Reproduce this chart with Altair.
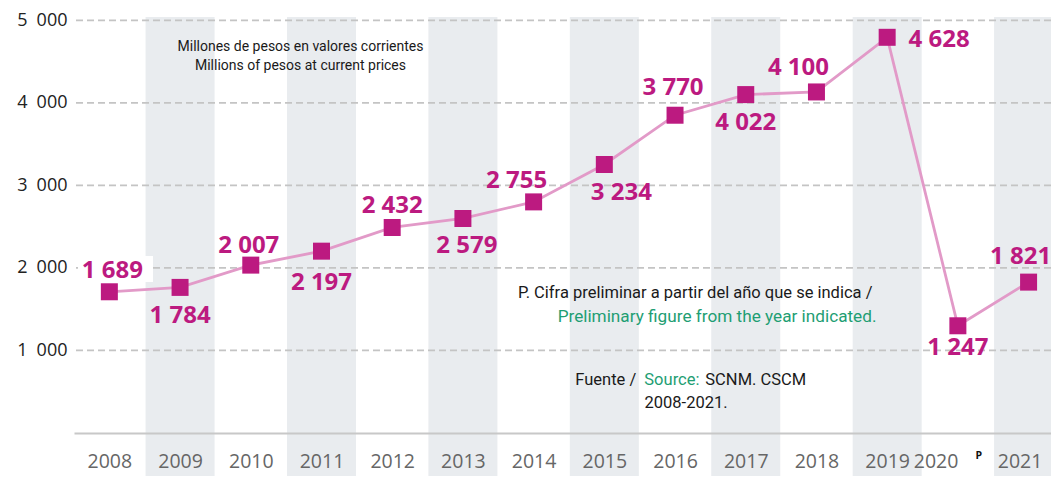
import altair as alt
import pandas as pd

# ---- data ----
years = [2008, 2009, 2010, 2011, 2012, 2013, 2014,
         2015, 2016, 2017, 2018, 2019, 2020, 2021]
# figures printed next to each marker
values = [1689, 1784, 2007, 2197, 2432, 2579, 2755, 3234, 3770, 4022, 4100, 4628, 1247, 1821]
# height at which each marker is drawn
plotted = [1711, 1764, 2034, 2203, 2490, 2599, 2800, 3253, 3850, 4100, 4132, 4794, 1299, 1828]
grid_values = [1000, 2000, 3000, 4000, 5000]
banded_years = years[1::2]

# ---- layout / style (kept apart from the data) ----
label_dx = [3, 0, -2, 0, 0, 4, -17, 17, -2, 0, -18, 52, 0, -8]
label_dy = [-21, 29, -19, 32, -21, 28, -21, 29, -27, 28, -24, 3, 22, -25]

MAGENTA = "#BC1A80"
PINK = "#E29AC8"
GREEN = "#1E9E73"
BAND = "#E9ECEF"
W, H = 977, 416

df = pd.DataFrame({
    "year": years,
    "v": plotted,
    "label": [f"{v:,}".replace(",", " ") for v in values],
})

xscale = alt.Scale(domain=[2007.5, 2021.317], nice=False, zero=False)
x_axis = alt.Axis(
    title=None, values=years, format="d", labelAngle=0, ticks=False, tickSize=0,
    grid=False, labelFlush=False, labelOverlap=False, labelBound=False,
    labelPadding=19, labelFont="Open Sans", labelFontSize=19.5, labelColor="#666666",
    labelAlign={"condition": {"test": "datum.value == 2020", "value": "right"}, "value": "center"},
    labelOffset={"condition": {"test": "datum.value == 2021", "value": -9}, "value": 0},
    domainColor="#C8C8C8", domainWidth=2, zindex=1,
)
X = alt.X("year:Q", scale=xscale, axis=x_axis)
Y = alt.Y(
    "v:Q",
    scale=alt.Scale(domain=[0, 5040], nice=False, zero=True),
    axis=alt.Axis(
        title=None, values=grid_values, grid=False, domain=False, ticks=False, tickSize=0,
        labelPadding=7, labelFont="Open Sans", labelFontSize=18, labelColor="#222222",
        labelExpr="replace(format(datum.value, ','), ',', '\u2002')",
    ),
)

bands = alt.Chart(pd.DataFrame({"year": banded_years})).transform_calculate(
    x0="datum.year - 0.488", x1="datum.year + 0.488"
).mark_rect(color=BAND).encode(
    x=alt.X("x0:Q", scale=xscale, axis=x_axis), x2="x1:Q",
    y=alt.value(0), y2=alt.value(480),
)

grid = alt.Chart(pd.DataFrame({"v": grid_values})).mark_rule(
    color="#C4C4C4", strokeWidth=1.7, strokeDash=[7, 4]
).encode(y=Y)

white_box = alt.Chart(pd.DataFrame({"a": [0]})).mark_rect(color="white").encode(
    x=alt.value(4), x2=alt.value(79), y=alt.value(239), y2=alt.value(265)
)

line = alt.Chart(df).mark_line(color=PINK, strokeWidth=2.8).encode(x=X, y=Y)
points = alt.Chart(df).mark_point(
    shape="square", filled=True, size=289, color=MAGENTA, opacity=1
).encode(x=X, y=Y)

label_layers = []
for yr, dx, dy in zip(years, label_dx, label_dy):
    label_layers.append(
        alt.Chart(df).transform_filter(alt.datum.year == yr).mark_text(
            font="Open Sans", fontSize=24, fontWeight="bold", color=MAGENTA,
            align="center", baseline="middle", dx=dx, dy=dy,
        ).encode(x=X, y=Y, text="label:N")
    )


def note(text, year, v, dx, align, color, size=16.5, weight="normal"):
    return alt.Chart(pd.DataFrame({"year": [year], "v": [v], "t": [text]})).mark_text(
        font="Roboto", fontSize=size, fontWeight=weight, color=color,
        align=align, baseline="middle", dx=dx,
    ).encode(x=X, y=Y, text="t:N")


notes = [
    note("Millones de pesos en valores corrientes", 2011, 4676, -21, "center", "#1a1a1a", 14),
    note("Millions of pesos at current prices", 2011, 4446, -21, "center", "#1a1a1a", 14),
    note("P. Cifra preliminar a partir del año que se indica /", 2018, 1696, 56, "right", "#1a1a1a"),
    note("Preliminary figure from the year indicated.", 2018, 1405, 60, "right", GREEN, 17.2),
    note("Fuente /", 2015, 642, -29, "left", "#1a1a1a"),
    note("Source:", 2015, 642, 40, "left", GREEN),
    note("SCNM. CSCM", 2015, 642, 101, "left", "#1a1a1a"),
    note("2008-2021.", 2016, 363, 11, "center", "#1a1a1a"),
]

p_mark = alt.Chart(pd.DataFrame({"year": [2020], "t": ["P"]})).mark_text(
    font="Open Sans", fontSize=10.5, fontWeight="bold", color="#111111",
    align="center", baseline="middle", dx=21,
).encode(x=X, y=alt.value(439), text="t:N")

chart = alt.layer(
    bands, grid, white_box, line, points, *label_layers, *notes, p_mark
).properties(
    width=W, height=H,
    autosize=alt.AutoSizeParams(type="none"),
    padding={"left": 66, "top": 9, "right": 0, "bottom": 43},
).configure_view(stroke=None)

chart.save("out.html", embed_options={"renderer": "svg", "actions": False})
